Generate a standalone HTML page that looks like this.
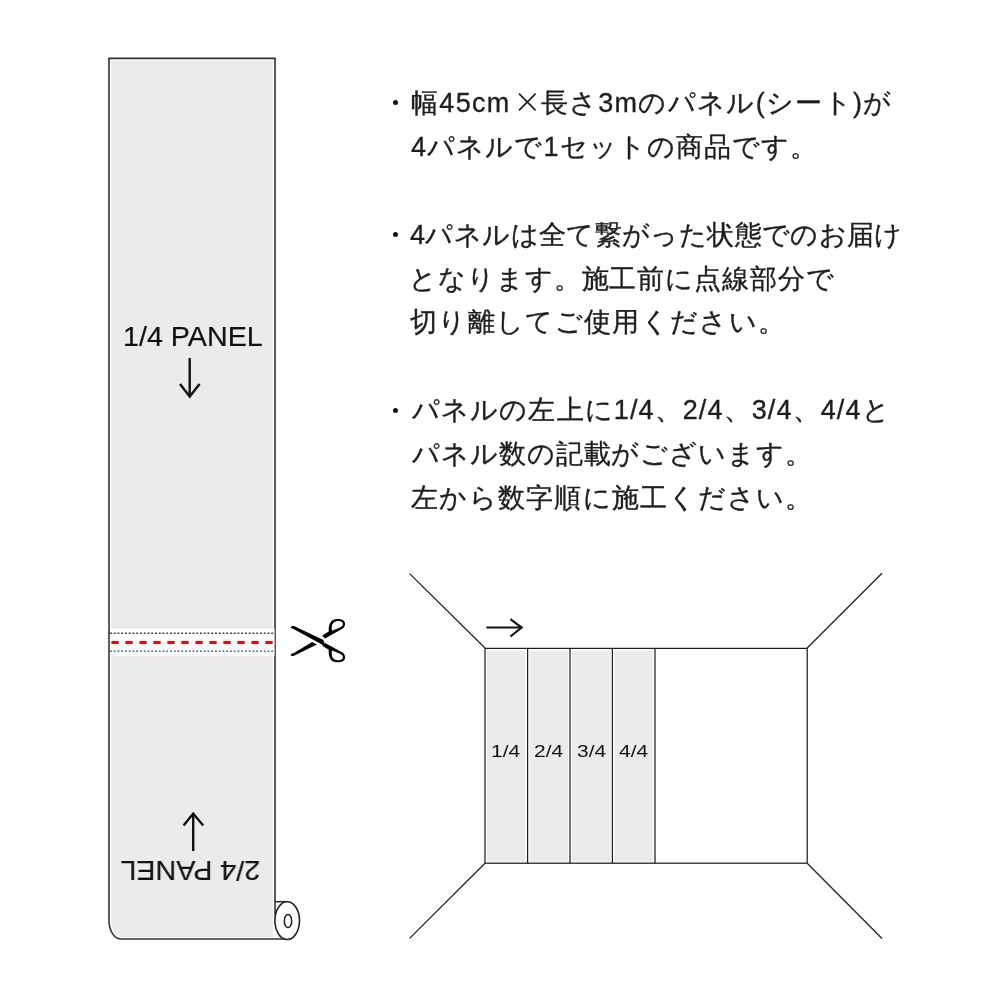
<!DOCTYPE html>
<html lang="ja">
<head>
<meta charset="utf-8">
<style>
html,body{margin:0;padding:0;background:#fff;}
body{width:1000px;height:1000px;position:relative;overflow:hidden;font-family:"Liberation Sans",sans-serif;color:#1e1e1e;}
svg{position:absolute;left:0;top:0;}
.t,.lbl,.pl{will-change:transform;}
.t{position:absolute;white-space:nowrap;font-size:27px;line-height:30px;-webkit-text-stroke:0.35px #1e1e1e;letter-spacing:2px;}
.x{display:inline-block;width:30px;}
.b{position:absolute;width:5px;height:5px;border-radius:50%;background:#111;}
.lbl{position:absolute;white-space:nowrap;font-size:27px;line-height:30px;-webkit-text-stroke:0.2px #111;color:#111;transform:scaleX(1.062);transform-origin:0 0;}
.pl{position:absolute;white-space:nowrap;font-size:17px;line-height:20px;color:#111;transform:scaleX(1.23);transform-origin:0 0;}
</style>
</head>
<body>
<svg width="1000" height="1000" viewBox="0 0 1000 1000">
  <!-- left long panel -->
  <path d="M109,58.4 H275 V939 H120.5 A11.5,19 0 0 1 109,920 Z" fill="#ebebeb" stroke="#fff" stroke-width="4.2"/>
  <path d="M287,939 H120.5 A11.5,19 0 0 1 109,920 V58.4 H275 V915" fill="none" stroke="#333" stroke-width="1.6"/>
  <!-- cut band -->
  <rect x="110" y="628.6" width="164.5" height="27.4" fill="#fff"/>
  <line x1="110" y1="633.3" x2="274" y2="633.3" stroke="#444" stroke-width="1.4" stroke-dasharray="1.9 1.85"/>
  <line x1="110" y1="651.1" x2="274" y2="651.1" stroke="#444" stroke-width="1.4" stroke-dasharray="1.9 1.85"/>
  <line x1="111.4" y1="642.5" x2="273" y2="642.5" stroke="#f00" stroke-width="3" stroke-dasharray="7.3 6.7"/>
  <!-- roll -->
  <path d="M275,901.7 H287.2" stroke="#333" stroke-width="1.6" fill="none"/>
  <ellipse cx="287.2" cy="920.6" rx="12.3" ry="18.9" fill="#fff" stroke="#222" stroke-width="1.6"/>
  <ellipse cx="288" cy="921" rx="3.7" ry="6.6" fill="none" stroke="#222" stroke-width="1.5"/>
  <!-- arrows in panel -->
  <g stroke="#111" stroke-width="2.4" fill="none" stroke-linecap="butt" stroke-linejoin="miter">
    <path d="M189.7,358 V396"/>
    <path d="M180,384 L189.7,396.6 L199.6,384"/>
    <path d="M193.2,851 V814"/>
    <path d="M183.6,825.6 L193.2,813.6 L203.2,825.6"/>
  </g>
  <!-- scissors -->
  <g fill="#000" fill-rule="evenodd">
    <path d="M290.7,627 Q291,625.7 294,626 L323.4,640 L324.2,642.8 L327.4,647.4 L293.5,629 Q290.7,628.3 290.7,627 Z"/>
    <path d="M290.7,655 Q290.9,653.4 293.4,653.2 L312.2,642.1 L316.9,644.6 L294,655.8 Q290.7,656.6 290.7,655 Z"/>
    <path id="uh" d="M322.2,635.6 L328.8,631.6 C328.4,627 329.3,620.3 335,619.2 C339.5,618.4 344.5,619.4 345,623 C345.4,626 344,628 341.5,629.2 L325,638.4 Z M332,630.8 C331.4,626.8 331.5,622.6 336,621.4 C339.5,620.6 342.9,621.4 342.9,624 C342.9,625.8 341.9,626.6 340,627.5 Z"/>
    <path transform="translate(0,1281.3) scale(1,-1)" d="M322.2,635.6 L328.8,631.6 C328.4,627 329.3,620.3 335,619.2 C339.5,618.4 344.5,619.4 345,623 C345.4,626 344,628 341.5,629.2 L325,638.4 Z M332,630.8 C331.4,626.8 331.5,622.6 336,621.4 C339.5,620.6 342.9,621.4 342.9,624 C342.9,625.8 341.9,626.6 340,627.5 Z"/>
  </g>
  <g stroke="#1e1e1e" stroke-width="1.7"><path d="M519,93.6 L535.6,110.4 M535.6,93.6 L519,110.4"/></g>
  <!-- room diagram -->
  <g stroke="#1e1e1e" stroke-width="1.25" fill="none">
    <line x1="409.6" y1="573.6" x2="485" y2="648"/>
    <line x1="882" y1="573.2" x2="807.2" y2="648"/>
    <line x1="409.6" y1="938.4" x2="485" y2="863.3"/>
    <line x1="882" y1="938.5" x2="807.2" y2="863.3"/>
  </g>
  <rect x="486.9" y="650.9" width="38.8" height="210.6" fill="#ebebeb"/><rect x="529.5" y="650.9" width="38.6" height="210.6" fill="#ebebeb"/><rect x="571.9" y="650.9" width="38.6" height="210.6" fill="#ebebeb"/><rect x="614.3" y="650.9" width="38.8" height="210.6" fill="#ebebeb"/>
  <g stroke="#1e1e1e" stroke-width="1.25" fill="none">
    <rect x="485" y="648.4" width="322.2" height="214.8"/>
    <line x1="527.6" y1="648.4" x2="527.6" y2="863.2"/>
    <line x1="570" y1="648.4" x2="570" y2="863.2"/>
    <line x1="612.4" y1="648.4" x2="612.4" y2="863.2"/>
    <line x1="655" y1="648.4" x2="655" y2="863.2"/>
  </g>
  <g stroke="#111" stroke-width="2.2" fill="none">
    <path d="M486.4,627.5 H521"/>
    <path d="M510.4,619.2 L521.6,627.5 L510.4,636.5"/>
  </g>
</svg>

<div class="lbl" style="left:123px;top:322px;">1/4 PANEL</div>
<div class="lbl" style="left:120px;top:854.5px;transform:rotate(180deg) scaleX(1.062);transform-origin:68px 15px;">2/4 PANEL</div>

<div class="pl" style="left:490.5px;top:741.5px;">1/4</div>
<div class="pl" style="left:534px;top:741.5px;">2/4</div>
<div class="pl" style="left:577px;top:741.5px;">3/4</div>
<div class="pl" style="left:619.2px;top:741.5px;">4/4</div>

<div class="b" style="left:392.7px;top:99.8px;"></div>
<div class="b" style="left:392.7px;top:231.5px;"></div>
<div class="b" style="left:392.7px;top:407.5px;"></div>
<div class="t" id="L1" style="left:411.0px;letter-spacing:1.32px;top:88px;">幅45cm<span class="x"></span>長さ3mのパネル(シート)が</div>
<div class="t" id="L2" style="left:410.8px;letter-spacing:1.09px;top:132px;">4パネルで1セットの商品です。</div>
<div class="t" id="L3" style="left:409.6px;letter-spacing:0.38px;top:220px;">4パネルは全て繋がった状態でのお届け</div>
<div class="t" id="L4" style="left:409.2px;letter-spacing:0.92px;top:264px;">となります。施工前に点線部分で</div>
<div class="t" id="L5" style="left:410.0px;letter-spacing:1.33px;top:307px;">切り離してご使用ください。</div>
<div class="t" id="L6" style="left:411.6px;letter-spacing:1.11px;top:395px;">パネルの左上に1/4、2/4、3/4、4/4と</div>
<div class="t" id="L7" style="left:412.0px;letter-spacing:0.92px;top:439px;">パネル数の記載がございます。</div>
<div class="t" id="L8" style="left:410.6px;letter-spacing:1.26px;top:483px;">左から数字順に施工ください。</div>
</body>
</html>
